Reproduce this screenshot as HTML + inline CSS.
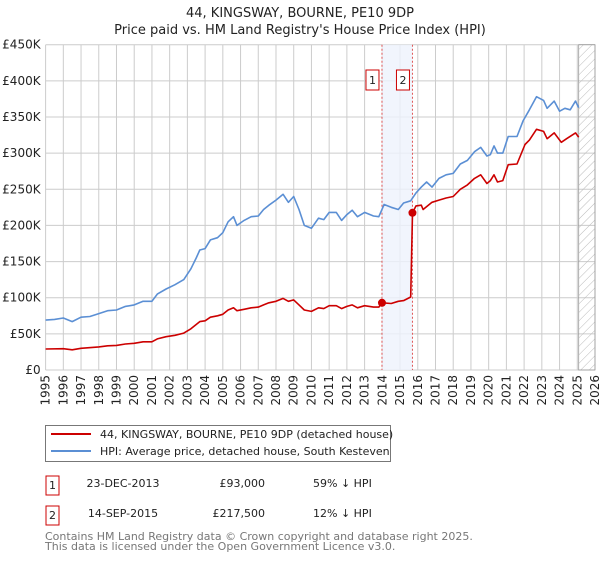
<!DOCTYPE html>
<html><head><meta charset="utf-8"><style>
body{margin:0;background:#fff;font-family:"DejaVu Sans","Liberation Sans",sans-serif;}
svg text{font-family:"DejaVu Sans","Liberation Sans",sans-serif;}
</style></head><body>
<svg id="chart" width="600" height="560" xmlns="http://www.w3.org/2000/svg">
<text x="300" y="17" text-anchor="middle" font-size="13" fill="#222">44, KINGSWAY, BOURNE, PE10 9DP</text>
<text x="300" y="34" text-anchor="middle" font-size="13" fill="#222">Price paid vs. HM Land Registry's House Price Index (HPI)</text>
<g id="grid"></g><g id="marks"></g><g id="axes"></g>
<g>
<rect x="45.5" y="425.5" width="345" height="36" fill="#fff" stroke="#777"/>
<line x1="51" y1="434" x2="91" y2="434" stroke="#cc0000" stroke-width="2"/>
<text x="100" y="438" font-size="11" fill="#222">44, KINGSWAY, BOURNE, PE10 9DP (detached house)</text>
<line x1="51" y1="451" x2="91" y2="451" stroke="#5b8fd4" stroke-width="2"/>
<text x="100" y="455" font-size="11" fill="#222">HPI: Average price, detached house, South Kesteven</text>
</g>
<g font-size="11" fill="#222">
<rect x="46" y="476" width="13" height="19" fill="#fff" stroke="#cc0000"/><text x="52.5" y="489" text-anchor="middle">1</text>
<text x="123" y="487" text-anchor="middle">23-DEC-2013</text><text x="265" y="487" text-anchor="end">£93,000</text><text x="313" y="487">59% ↓ HPI</text>
<rect x="46" y="506" width="13" height="19" fill="#fff" stroke="#cc0000"/><text x="52.5" y="519" text-anchor="middle">2</text>
<text x="123" y="517" text-anchor="middle">14-SEP-2015</text><text x="265" y="517" text-anchor="end">£217,500</text><text x="313" y="517">12% ↓ HPI</text>
</g>
<text x="45" y="540" font-size="11" fill="#777">Contains HM Land Registry data © Crown copyright and database right 2025.</text>
<text x="45" y="550" font-size="11" fill="#777">This data is licensed under the Open Government Licence v3.0.</text>
</svg>
<script>
const hpiYears=[1995,1995.5,1996,1996.5,1997,1997.5,1998,1998.5,1999,1999.5,2000,2000.5,2001,2001.3,2001.8,2002.3,2002.8,2003.2,2003.5,2003.7,2004,2004.3,2004.7,2005,2005.3,2005.6,2005.8,2006.2,2006.6,2007,2007.3,2007.6,2008,2008.4,2008.7,2009,2009.3,2009.6,2010,2010.4,2010.7,2011,2011.4,2011.7,2012,2012.3,2012.6,2013,2013.5,2013.8,2014.1,2014.5,2014.9,2015.2,2015.6,2015.9,2016.2,2016.5,2016.8,2017.2,2017.6,2018,2018.4,2018.8,2019.2,2019.55,2019.9,2020.1,2020.3,2020.5,2020.8,2021.1,2021.6,2021.95,2022.3,2022.7,2023.1,2023.3,2023.7,2024,2024.3,2024.6,2024.9,2025.08];
const hpiValues=[69,70,72,67,73,74,78,82,83,88,90,95,95,105,112,118,125,140,155,166,168,180,183,190,205,212,200,207,212,213,222,228,235,243,232,240,222,200,196,210,208,218,218,207,215,221,212,218,213,212,229,225,222,231,234,245,253,260,253,265,270,272,285,290,302,308,296,298,310,300,300,323,323,345,360,378,373,362,372,358,362,360,372,363];
const priceYears=[1995,1996,1996.5,1997,1998,1998.5,1999,1999.5,2000,2000.5,2001,2001.3,2001.8,2002.3,2002.8,2003.2,2003.5,2003.7,2004,2004.3,2004.7,2005,2005.3,2005.6,2005.8,2006.2,2006.6,2007,2007.3,2007.6,2008,2008.4,2008.7,2009,2009.3,2009.6,2010,2010.4,2010.7,2011,2011.4,2011.7,2012,2012.3,2012.6,2013,2013.5,2013.8,2013.98,2014.5,2014.9,2015.2,2015.6,2015.7,2015.9,2016.2,2016.3,2016.8,2017.2,2017.6,2018,2018.4,2018.8,2019.2,2019.55,2019.9,2020.1,2020.3,2020.5,2020.8,2021.1,2021.6,2022.05,2022.3,2022.7,2023.1,2023.3,2023.7,2024.1,2024.4,2024.9,2025.08];
const priceValues=[29,29.5,28,30,32,33.5,34,36,37,39,39,43,46,48,51,57,63,67,68,73,75,77,83,86,82,84,86,87,90,93,95,99,95,97,90,83,81,86,85,89,89,85,88,90,86,89,87,87,93,92,95,96,101,217.5,227,228,222,232,235,238,240,250,256,265,270,258,262,270,260,262,284,285,312,318,333,330,320,328,315,320,328,322];
const saleYears=[2013.98,2015.7];
const saleValues=[93,217.5];
const saleLabels=["1","2"];
const yTicks=[0,50,100,150,200,250,300,350,400,450];
const yTickLabels=["£0","£50K","£100K","£150K","£200K","£250K","£300K","£350K","£400K","£450K"];
const xTicks=[1995,1996,1997,1998,1999,2000,2001,2002,2003,2004,2005,2006,2007,2008,2009,2010,2011,2012,2013,2014,2015,2016,2017,2018,2019,2020,2021,2022,2023,2024,2025,2026];

const NS="http://www.w3.org/2000/svg";
const X0=45.6,X1=595,Y0=370,Y1=44.7;
const xs=y=>X0+(y-1995)/(2026-1995)*(X1-X0);
const ys=v=>Y0-v/450*(Y0-Y1);
function mk(tag,attrs,parent){const e=document.createElementNS(NS,tag);for(const k in attrs)e.setAttribute(k,attrs[k]);parent.appendChild(e);return e;}
const grid=document.getElementById('grid'),marks=document.getElementById('marks'),axes=document.getElementById('axes');
mk('rect',{x:X0,y:Y1,width:X1-X0,height:Y0-Y1,fill:'#fff'},grid);
yTicks.forEach((t,i)=>{
  const l=mk('line',{x1:X0,x2:X1,y1:ys(t),y2:ys(t),stroke:'#ccc','stroke-width':1},grid);
  
  
  const tx=mk('text',{x:X0-5,y:ys(t)+4,'text-anchor':'end','font-size':12,fill:'#222'},axes);
  tx.textContent=yTickLabels[i];
  
  
});
xTicks.forEach(t=>{
  const l=mk('line',{x1:xs(t),x2:xs(t),y1:Y1,y2:Y0,stroke:'#ccc','stroke-width':1},grid);
  
  
  const tx=mk('text',{x:0,y:0,'text-anchor':'end','font-size':12,fill:'#222',transform:`translate(${xs(t)+4},375) rotate(-90)`},axes);
  tx.textContent=String(t);
  
  
});
// hatch future
const defs=mk('defs',{},grid);
const pat=mk('pattern',{id:'hatch',width:6,height:6,patternUnits:'userSpaceOnUse',patternTransform:'rotate(45)'},defs);
mk('line',{x1:0,y1:0,x2:0,y2:6,stroke:'#bbb','stroke-width':1},pat);
const hx=xs(2025.08);
const hr=mk('rect',{x:hx,y:Y1,width:X1-hx,height:Y0-Y1,fill:'url(#hatch)',stroke:'#999','stroke-width':0.8},grid);


// band
const band=mk('rect',{x:xs(saleYears[0]),y:Y1,width:xs(saleYears[1])-xs(saleYears[0]),height:Y0-Y1,fill:'#eef3fc',opacity:0.8},grid);


saleYears.forEach((s,i)=>{
  const l=mk('line',{x1:xs(s),x2:xs(s),y1:Y1,y2:Y0,stroke:'#e05555','stroke-width':1,'stroke-dasharray':'2,2'},grid);
  
  
});
function path(xsArr,vs,color,name){
  const d=xsArr.map((y,i)=>(i?'L':'M')+xs(y).toFixed(1)+','+ys(vs[i]).toFixed(1)).join('');
  const p=mk('path',{d:d,fill:'none',stroke:color,'stroke-width':1.6,'stroke-linejoin':'round'},marks);
  
  
}
path(hpiYears,hpiValues,'#5b8fd4','hpi-line');
path(priceYears,priceValues,'#cc0000','price-line');
saleYears.forEach((s,i)=>{
  const c=mk('circle',{cx:xs(s),cy:ys(saleValues[i]),r:4,fill:'#cc0000'},marks);
  
  
  const bx=xs(s)-16;
  const r=mk('rect',{x:bx,y:70,width:13,height:20,fill:'#fff',stroke:'#cc0000'},marks);
  
  
  const t=mk('text',{x:bx+6.5,y:84,'text-anchor':'middle','font-size':11,fill:'#222'},marks);
  t.textContent=saleLabels[i];
  
  
});
</script>
</body></html>
